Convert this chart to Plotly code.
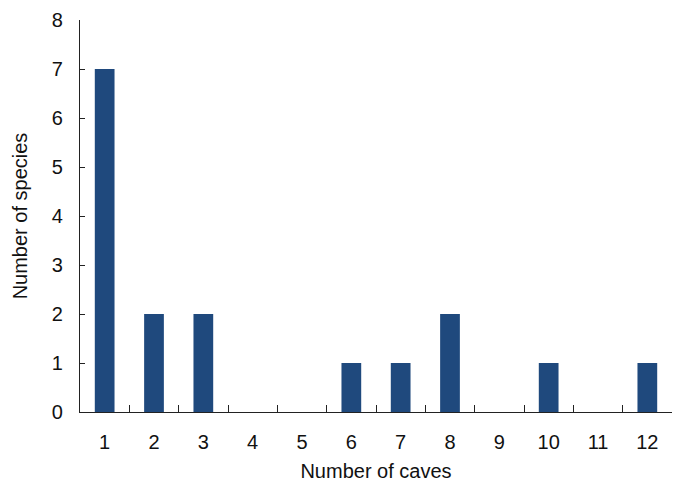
import plotly.graph_objects as go

caves = ["1", "2", "3", "4", "5", "6", "7", "8", "9", "10", "11", "12"]
species = [7, 2, 2, 0, 0, 1, 1, 2, 0, 1, 0, 1]

fig = go.Figure(go.Bar(
    x=caves, y=species,
    marker=dict(color="#1F497D", line=dict(width=0)),
))

font = dict(family="Liberation Sans, Arial, sans-serif", size=20, color="#111111")

fig.update_layout(
    width=680, height=485,
    margin=dict(l=72, r=16, t=12, b=81),
    paper_bgcolor="white", plot_bgcolor="white",
    bargap=0.6, showlegend=False,
    font=font,
    xaxis=dict(
        type="category", categoryorder="array", categoryarray=caves,
        showline=True, linecolor="#222222", linewidth=1.3,
        ticks="inside", tickson="boundaries", ticklen=7, tickcolor="#222222",
        showgrid=False, zeroline=False, automargin=False,
        ticklabelstandoff=12, ticklabeloverflow="allow",
        title=dict(text="Number of caves", standoff=11, font=font),
        tickfont=font,
    ),
    yaxis=dict(
        range=[0, 8], dtick=1,
        showline=True, linecolor="#222222", linewidth=1.3,
        ticks="inside", ticklen=5, tickcolor="#222222",
        showgrid=False, zeroline=False, automargin=False,
        ticklabelstandoff=12, ticklabeloverflow="allow",
        title=dict(text="Number of species", standoff=18, font=font),
        tickfont=font,
    ),
)

fig.write_html("out.html")
